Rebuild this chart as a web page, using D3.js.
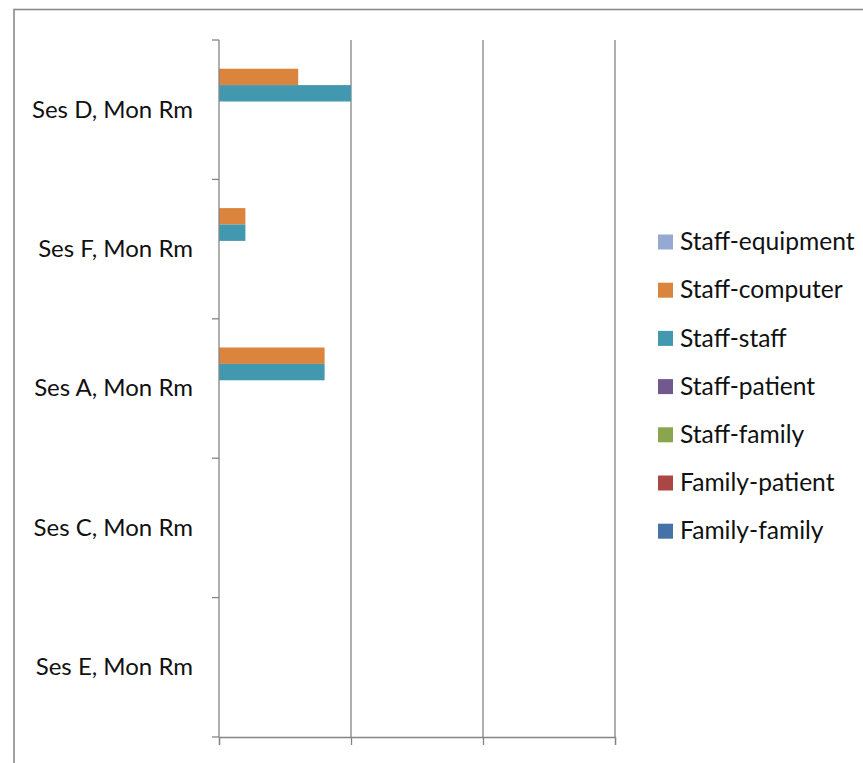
<!DOCTYPE html>
<html>
<head>
<meta charset="utf-8">
<script src="https://cdn.jsdelivr.net/npm/d3@7"></script>
<style>
  html, body { margin: 0; padding: 0; background: #fff; }
  svg { display: block; }
  text { font-family: Lato, "Open Sans", sans-serif; fill: #111; }
</style>
</head>
<body>
<svg id="chart" width="863" height="763"></svg>
<script>
// Sessions, top to bottom
const categories = ["Ses D, Mon Rm", "Ses F, Mon Rm", "Ses A, Mon Rm", "Ses C, Mon Rm", "Ses E, Mon Rm"];
// Interaction types (series), in legend order
const seriesNames = ["Staff-equipment", "Staff-computer", "Staff-staff", "Staff-patient", "Staff-family", "Family-patient", "Family-family"];
const seriesColors = ["#95A9D3", "#DB843D", "#4198AF", "#71588F", "#89A54E", "#AA4643", "#4572A7"];
// Counts per session, one array per series (same order as categories)
const staffEquipment = [0, 0, 0, 0, 0];
const staffComputer  = [3, 1, 4, 0, 0];
const staffStaff     = [5, 1, 4, 0, 0];
const staffPatient   = [0, 0, 0, 0, 0];
const staffFamily    = [0, 0, 0, 0, 0];
const familyPatient  = [0, 0, 0, 0, 0];
const familyFamily   = [0, 0, 0, 0, 0];
const xTicks = [0, 5, 10, 15];

const seriesValues = [staffEquipment, staffComputer, staffStaff, staffPatient, staffFamily, familyPatient, familyFamily];

const svg = d3.select("#chart");

// outer chart frame (extends past the visible area)
svg.append("rect")
  .attr("x", 14).attr("y", 9.5)
  .attr("width", 900).attr("height", 800)
  .attr("fill", "none").attr("stroke", "#8a8a8a").attr("stroke-width", 1.6);

const plot = { left: 219, right: 615, top: 40, bottom: 737 };

const x = d3.scaleLinear().domain([0, 15]).range([plot.left, plot.right]);
const y0 = d3.scaleBand().domain(categories).range([plot.top, plot.bottom]).paddingInner(0).paddingOuter(0);
// 150% gap between clusters: each band holds 7 bars plus 1.5 bar widths of gap
const barUnit = y0.bandwidth() / 8.5;
const y1 = d3.scaleBand().domain(seriesNames).range([0.75 * barUnit, 7.75 * barUnit]).padding(0);

const gridColor = "#858585";

// vertical gridlines
svg.append("g")
  .selectAll("line")
  .data(xTicks.slice(1))
  .join("line")
  .attr("x1", d => x(d)).attr("x2", d => x(d))
  .attr("y1", plot.top).attr("y2", plot.bottom)
  .attr("stroke", gridColor).attr("stroke-width", 1.3);

// bars
const groups = svg.append("g")
  .selectAll("g")
  .data(categories)
  .join("g")
  .attr("transform", d => `translate(0,${y0(d)})`);

groups.selectAll("rect")
  .data((c, i) => seriesNames.map((s, j) => ({ s, color: seriesColors[j], v: seriesValues[j][i] })))
  .join("rect")
  .filter(d => d.v > 0)
  .attr("x", x(0))
  .attr("y", d => y1(d.s))
  .attr("width", d => x(d.v) - x(0))
  .attr("height", y1.bandwidth())
  .attr("fill", d => d.color);

// value axis along the bottom (labels fall outside the visible frame)
const xAxis = svg.append("g")
  .attr("transform", `translate(0,${plot.bottom})`)
  .call(d3.axisBottom(x).tickValues(xTicks).tickSize(8).tickFormat(""));
xAxis.select(".domain").attr("stroke", gridColor).attr("stroke-width", 1.3);
xAxis.selectAll(".tick line").attr("stroke", gridColor).attr("stroke-width", 1.3);

// category axis
const yTickPos = categories.map(c => y0(c)).concat([plot.bottom]);
const yAxis = svg.append("g");
yAxis.append("line")
  .attr("x1", plot.left).attr("x2", plot.left)
  .attr("y1", plot.top).attr("y2", plot.bottom)
  .attr("stroke", gridColor).attr("stroke-width", 1.3);
yAxis.selectAll("line.tk")
  .data(yTickPos)
  .join("line").attr("class", "tk")
  .attr("x1", plot.left - 7).attr("x2", plot.left)
  .attr("y1", d => d).attr("y2", d => d)
  .attr("stroke", gridColor).attr("stroke-width", 1.3);
yAxis.selectAll("text")
  .data(categories)
  .join("text")
  .attr("x", 193)
  .attr("y", d => y0(d) + y0.bandwidth() / 2)
  .attr("dy", "0.33em")
  .attr("text-anchor", "end")
  .style("font-size", "24px")
  .text(d => d);

// legend
const legend = svg.append("g");
const legendTop = 242, legendStep = 48.2;
seriesNames.forEach((name, i) => {
  const cy = legendTop + i * legendStep;
  legend.append("rect")
    .attr("x", 658).attr("y", cy - 7.5)
    .attr("width", 15).attr("height", 15)
    .attr("fill", seriesColors[i]);
  legend.append("text")
    .attr("x", 680).attr("y", cy)
    .attr("dy", "0.33em")
    .style("font-size", "24.6px")
    .text(name);
});
</script>
</body>
</html>
